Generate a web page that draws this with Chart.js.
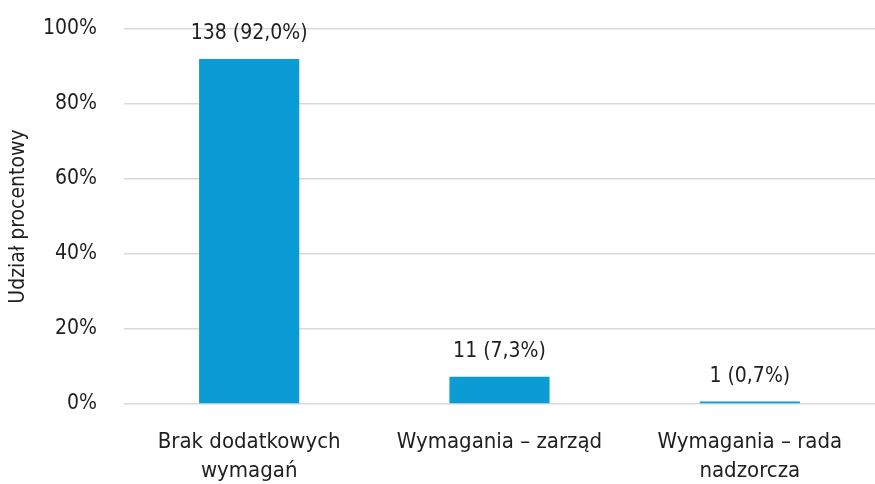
<!DOCTYPE html>
<html>
<head>
<meta charset="utf-8">
<script src="https://cdn.jsdelivr.net/npm/chart.js@4"></script>
<style>
html,body{margin:0;padding:0;background:#fff;}
#wrap{width:875px;height:484px;position:relative;}
</style>
</head>
<body>
<div id="wrap"><canvas id="c" width="875" height="484"></canvas></div>
<script>
const categories = [["Brak dodatkowych","wymagań"],"Wymagania – zarząd",["Wymagania – rada","nadzorcza"]];
const counts = [138, 11, 1];
const percents = [92.0, 7.3, 0.7];
const yTicks = [0, 20, 40, 60, 80, 100];
const yTitle = "Udział procentowy";

const FONT = "'DejaVu Sans Condensed',sans-serif";

const labelPlugin = {
  id: 'barLabels',
  afterDatasetsDraw(chart) {
    const ctx = chart.ctx;
    const meta = chart.getDatasetMeta(0);
    ctx.save();
    ctx.font = "21px " + FONT;
    ctx.fillStyle = "#1f1f1f";
    ctx.textAlign = "center";
    ctx.textBaseline = "middle";
    meta.data.forEach((bar, i) => {
      const txt = counts[i] + " (" + percents[i].toFixed(1).replace('.', ',') + "%)";
      ctx.fillText(txt, bar.x, bar.y - 25);
    });
    ctx.restore();
  }
};

new Chart(document.getElementById('c'), {
  type: 'bar',
  data: {
    labels: categories,
    datasets: [{
      data: percents,
      backgroundColor: '#0B9BD5',
      barPercentage: 0.8,
      categoryPercentage: 0.5
    }]
  },
  options: {
    responsive: false,
    animation: false,
    devicePixelRatio: 1,
    layout: { padding: { top: 29, right: 0, left: 0, bottom: 0 } },
    plugins: { legend: { display: false }, tooltip: { enabled: false } },
    scales: {
      x: {
        grid: { display: false, drawTicks: false },
        border: { display: false },
        ticks: { color: '#1f1f1f', font: { family: FONT, size: 22, lineHeight: 1.32 }, padding: 24, maxRotation: 0, autoSkip: false },
        afterFit(s) { s.height = 80; }
      },
      y: {
        min: 0, max: 100,
        afterBuildTicks(s) { s.ticks = yTicks.map(v => ({ value: v })); },
        grid: { color: '#d9d9d9', lineWidth: 1.5, drawTicks: false },
        border: { display: false },
        ticks: { color: '#1f1f1f', font: { family: FONT, size: 21 }, padding: 27, callback: v => v + '%' },
        title: { display: true, text: yTitle, color: '#1f1f1f', font: { family: FONT, size: 21 }, padding: { top: 6, bottom: 0 } },
        afterFit(s) { s.width = 124; s.paddingTop = 0; s.paddingBottom = 0; }
      }
    }
  },
  plugins: [labelPlugin]
});
</script>
</body>
</html>
